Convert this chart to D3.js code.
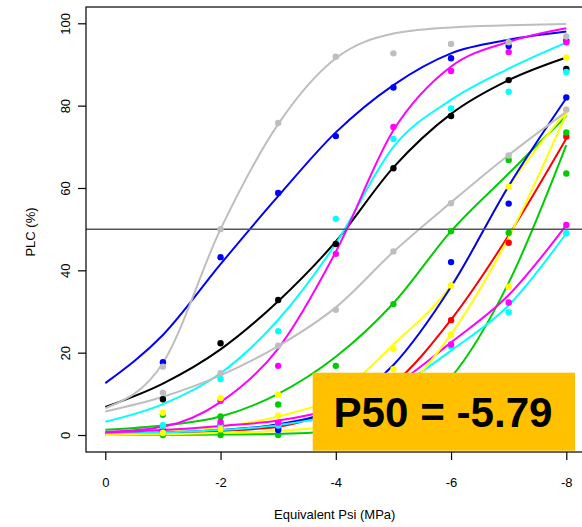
<!DOCTYPE html>
<html>
<head>
<meta charset="utf-8">
<script src="https://cdn.jsdelivr.net/npm/d3@7"></script>
<style>
  html, body { margin: 0; padding: 0; background: #ffffff; }
  svg { display: block; }
  text { font-family: "Liberation Sans", Arial, sans-serif; }
</style>
</head>
<body>
<svg id="chart" width="582" height="527"></svg>
<script>
// ---- data ----
const curvePsi = [0, -1, -2, -3, -4, -5, -6, -7, -8];
const pointPsi = [-1, -2, -3, -4, -5, -6, -7, -8];
const xTicks = [0, -2, -4, -6, -8];
const yTicks = [0, 20, 40, 60, 80, 100];
const p50Label = "P50 = -5.79";
const xTitle = "Equivalent Psi (MPa)";
const yTitle = "PLC (%)";
const refLine = 50;

// fitted curves (PLC % at curvePsi)
const curveBlack    = [6.8, 12.5, 20.8, 32.5, 47.0, 65.0, 78.0, 86.2, 91.7];
const curveRed      = [0.3, 0.5, 1.0, 2.0, 6.0, 12.5, 28.0, 48.5, 72.0];
const curveGreen1   = [1.3, 2.3, 4.5, 10.0, 19.0, 32.0, 49.5, 63.5, 77.5];
const curveBlue1    = [12.6, 24.3, 41.5, 58.0, 73.5, 85.0, 92.7, 96.0, 98.0];
const curveCyan1    = [3.2, 7.5, 15.0, 28.0, 46.5, 70.0, 81.4, 89.0, 95.3];
const curveMagenta1 = [0.7, 2.0, 8.0, 21.0, 44.5, 74.0, 89.5, 95.5, 98.8];
const curveYellow1  = [0.4, 1.0, 2.0, 4.5, 9.5, 22.0, 36.3, 60.3, 78.5];
const curveGray1    = [6.5, 17.5, 50.0, 75.5, 91.5, 97.5, 99.0, 99.5, 99.8];
const curveGreen2   = [0.0, 0.05, 0.1, 0.3, 1.0, 4.0, 14.0, 37.0, 70.4];
const curveBlue2    = [0.3, 0.6, 1.2, 2.6, 6.5, 17.0, 36.0, 60.5, 81.8];
const curveCyan2    = [0.3, 0.6, 1.2, 2.4, 5.0, 11.0, 20.5, 31.5, 49.0];
const curveMagenta2 = [0.6, 1.2, 2.2, 3.5, 6.5, 12.0, 22.5, 34.0, 51.0];
const curveYellow2  = [0.0, 0.2, 0.5, 1.0, 2.5, 8.5, 24.5, 48.0, 78.0];
const curveGray2    = [5.7, 9.3, 14.5, 21.6, 31.0, 44.5, 56.5, 68.0, 78.5];

// measured points (PLC % at pointPsi)
const ptsBlack    = [8.7, 22.3, 32.8, 46.4, 64.8, 77.5, 86.2, 88.9];
const ptsRed      = [1.2, 2.5, 1.5, 4.0, 10.0, 27.9, 46.7, 72.5];
const ptsGreen1   = [4.9, 4.5, 7.4, 16.8, 31.8, 49.5, 66.8, 73.5];
const ptsBlue1    = [17.7, 43.2, 58.8, 72.6, 84.4, 91.5, 94.5, 95.8];
const ptsCyan1    = [2.4, 13.6, 25.2, 52.5, 71.9, 79.3, 83.4, 88.2];
const ptsMagenta1 = [1.6, 8.3, 16.8, 44.0, 74.8, 88.4, 93.0, 95.4];
const ptsYellow1  = [5.4, 9.0, 9.8, 8.0, 20.9, 36.3, 60.3, 91.7];
const ptsGray1    = [16.6, 50.0, 75.8, 91.9, 92.7, 95.0, 95.4, 96.8];
const ptsGreen2   = [0.0, 0.0, 0.0, 1.0, 3.0, 12.0, 49.1, 63.5];
const ptsBlue2    = [1.0, 1.5, 1.2, 5.0, 12.0, 42.0, 56.2, 82.0];
const ptsCyan2    = [2.0, 2.0, 2.3, 4.0, 9.0, 21.5, 29.8, 49.0];
const ptsMagenta2 = [0.8, 3.2, 3.0, 6.0, 11.0, 22.0, 32.2, 51.0];
const ptsYellow2  = [0.5, 1.4, 4.7, 2.0, 16.0, 24.4, 36.0, 79.0];
const ptsGray2    = [10.3, 15.0, 21.7, 30.4, 44.6, 56.3, 67.9, 79.0];

const seriesColors = ["#000000", "#FF0000", "#00CD00", "#0000FF", "#00FFFF", "#FF00FF", "#FFFF00", "#BEBEBE",
                      "#00CD00", "#0000FF", "#00FFFF", "#FF00FF", "#FFFF00", "#BEBEBE"];
const seriesCurves = [curveBlack, curveRed, curveGreen1, curveBlue1, curveCyan1, curveMagenta1, curveYellow1, curveGray1,
                      curveGreen2, curveBlue2, curveCyan2, curveMagenta2, curveYellow2, curveGray2];
const seriesPoints = [ptsBlack, ptsRed, ptsGreen1, ptsBlue1, ptsCyan1, ptsMagenta1, ptsYellow1, ptsGray1,
                      ptsGreen2, ptsBlue2, ptsCyan2, ptsMagenta2, ptsYellow2, ptsGray2];

// ---- layout ----
const box = { left: 86, top: 7, right: 586, bottom: 452 };
const x = d3.scaleLinear().domain([0, -8]).range([105.3, 566.3]);
const y = d3.scaleLinear().domain([0, 100]).range([435, 23.3]);

const svg = d3.select("#chart");

const series = seriesColors.map((c, i) => ({
  color: c,
  curve: curvePsi.map((p, j) => ({ psi: p, v: seriesCurves[i][j] })),
  points: pointPsi.map((p, j) => ({ psi: p, v: seriesPoints[i][j] }))
}));

const line = d3.line()
  .x(d => x(d.psi))
  .y(d => y(d.v))
  .curve(d3.curveMonotoneX);

// curves
const gLines = svg.append("g");
series.forEach(s => {
  gLines.append("path")
    .attr("d", line(s.curve))
    .attr("fill", "none")
    .attr("stroke", s.color)
    .attr("stroke-width", 2)
    .attr("stroke-linejoin", "round");
});

// reference line at 50 %
svg.append("line")
  .attr("x1", box.left).attr("x2", box.right)
  .attr("y1", y(refLine)).attr("y2", y(refLine))
  .attr("stroke", "#555555").attr("stroke-width", 1.5);

// points
const gPts = svg.append("g");
series.forEach(s => {
  gPts.selectAll(null).data(s.points).enter().append("circle")
    .attr("cx", d => x(d.psi))
    .attr("cy", d => y(d.v))
    .attr("r", 3.2)
    .attr("fill", s.color);
});

// box
svg.append("rect")
  .attr("x", box.left).attr("y", box.top)
  .attr("width", box.right - box.left).attr("height", box.bottom - box.top)
  .attr("fill", "none").attr("stroke", "#000").attr("stroke-width", 1.2);

// x axis
const xAxis = d3.axisBottom(x).tickValues(xTicks).tickSize(8).tickPadding(22).tickFormat(d => String(d));
const gx = svg.append("g").attr("transform", `translate(0,${box.bottom})`).call(xAxis);
gx.select(".domain").remove();
gx.selectAll(".tick line").attr("stroke", "#000").attr("stroke-width", 1.2);
gx.selectAll(".tick text").attr("font-size", 13).attr("fill", "#000")
  .attr("font-family", "Liberation Sans, Arial, sans-serif").attr("dy", "0").attr("y", 34.5);

// y axis
const yAxis = d3.axisLeft(y).tickValues(yTicks).tickSize(8).tickFormat(d => String(d));
const gy = svg.append("g").attr("transform", `translate(${box.left},0)`).call(yAxis);
gy.select(".domain").remove();
gy.selectAll(".tick line").attr("stroke", "#000").attr("stroke-width", 1.2);
gy.selectAll(".tick text")
  .attr("font-size", 13).attr("fill", "#000")
  .attr("font-family", "Liberation Sans, Arial, sans-serif")
  .attr("x", null).attr("dy", null)
  .attr("text-anchor", "middle")
  .attr("transform", "translate(-16.5,0) rotate(-90)");

// axis titles
svg.append("text")
  .attr("x", 334.7).attr("y", 518.8)
  .attr("text-anchor", "middle").attr("font-size", 13).attr("fill", "#000")
  .text(xTitle);
svg.append("text")
  .attr("transform", "translate(34.5,232) rotate(-90)")
  .attr("text-anchor", "middle").attr("font-size", 13).attr("fill", "#000")
  .text(yTitle);

// P50 label box
svg.append("rect")
  .attr("x", 312.7).attr("y", 372.7)
  .attr("width", 262.3).attr("height", 78)
  .attr("fill", "#FFC000");
svg.append("text")
  .attr("x", 443).attr("y", 426.7)
  .attr("text-anchor", "middle")
  .attr("font-family", "Open Sans, Noto Sans, sans-serif")
  .attr("font-weight", "bold")
  .attr("font-size", 42)
  .attr("textLength", 219)
  .attr("lengthAdjust", "spacingAndGlyphs")
  .attr("fill", "#000")
  .text(p50Label);
</script>
</body>
</html>
